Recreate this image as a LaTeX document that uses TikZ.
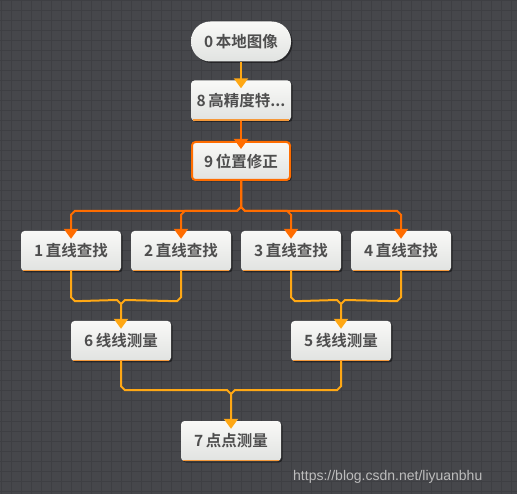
\documentclass[tikz,border=0pt]{standalone}
\usepackage{fontspec}
\setmainfont{Noto Sans CJK SC}[BoldFont={Noto Sans CJK SC Bold}]
\newfontfamily\wmfont{Liberation Sans}
\usetikzlibrary{arrows.meta,shadows,calc}
\definecolor{bg}{HTML}{46474B}
\definecolor{gridc}{HTML}{3E3F43}
\definecolor{boxtop}{HTML}{F9F9F7}
\definecolor{boxbot}{HTML}{E1E3E1}
\definecolor{txt}{HTML}{4E4E4E}
\definecolor{ordark}{HTML}{FF6D00}
\definecolor{orlight}{HTML}{FFA814}
\definecolor{orbottom}{HTML}{F5993A}
\definecolor{wm}{HTML}{BDBDBD}
\tikzset{
  box/.style={rectangle, rounded corners=3.5pt, minimum width=100pt, minimum height=40pt,
    inner sep=0pt, top color=boxtop, bottom color=boxbot,
    drop shadow={shadow xshift=1.5pt, shadow yshift=-1.5pt, opacity=0.45, fill=black},
    text=txt, font=\fontsize{15.5pt}{17pt}\selectfont\bfseries},
  pill/.style={box, rounded corners=19.5pt},
  selbox/.style={box, draw=ordark, line width=2pt, minimum width=98pt, minimum height=38pt},
  conA/.style={draw=ordark, line width=2pt, line join=miter},
  conB/.style={draw=orlight, line width=2pt, line join=miter},
  tipd/.style={-{Triangle[width=14pt,length=10pt]}, shorten >=-8pt},
  bline/.style={draw=orbottom, line width=1.2pt}
}
\begin{document}
\begin{tikzpicture}[x=1pt,y=-1pt]
\useasboundingbox (0,0) rectangle (517,494);
\fill[bg] (0,0) rectangle (517,494);
\foreach \i in {0,...,51} \draw[gridc, line width=1pt] (10*\i+1,0) -- (10*\i+1,494);
\foreach \i in {0,...,49} \draw[gridc, line width=1pt] (0,10*\i+1) -- (517,10*\i+1);

% nodes
\node[pill]   (n0) at (241,41.5) {0\,本地图像};
\node[box]    (n8) at (241,100.5) {8\,高精度特...};
\node[selbox] (n9) at (241,161) {9\,位置修正};
\node[box]    (n1) at (71,251) {1\,直线查找};
\node[box]    (n2) at (181,251) {2\,直线查找};
\node[box]    (n3) at (291,251) {3\,直线查找};
\node[box]    (n4) at (401,251) {4\,直线查找};
\node[box]    (n6) at (121,341) {6\,线线测量};
\node[box]    (n5) at (341,341) {5\,线线测量};
\node[box]    (n7) at (231,441) {7\,点点测量};

\foreach \n in {n8,n1,n2,n3,n4,n6,n5,n7}
  \draw[bline] ([xshift=2.5pt,yshift=0.6pt]\n.south west) -- ([xshift=-2.5pt,yshift=0.6pt]\n.south east);

% connectors
\draw[conB, tipd] (n0.south) -- (n8.north);
\draw[conA, tipd] (n8.south) -- (n9.north);

\coordinate (s9) at (241,207);
\draw[conA, tipd] (n9.south) -- (s9) -- ++(-4,4) -- ($(n1.north)+(4,-20)$) -- ++(-4,4) -- (n1.north);
\draw[conA, tipd] (n9.south) -- (s9) -- ++(-4,4) -- ($(n2.north)+(4,-20)$) -- ++(-4,4) -- (n2.north);
\draw[conA, tipd] (n9.south) -- (s9) -- ++(4,4) -- ($(n3.north)+(-4,-20)$) -- ++(4,4) -- (n3.north);
\draw[conA, tipd] (n9.south) -- (s9) -- ++(4,4) -- ($(n4.north)+(-4,-20)$) -- ++(4,4) -- (n4.north);

\coordinate (m6) at (121,304);
\draw[conB] (n1.south) -- ++(0,26) -- ++(4,4) -- ($(m6)+(-4,-4)$) -- (m6);
\draw[conB, tipd] (n2.south) -- ++(0,26) -- ++(-4,4) -- ($(m6)+(4,-4)$) -- (m6) -- (n6.north);

\coordinate (m5) at (341,304);
\draw[conB] (n3.south) -- ++(0,26) -- ++(4,4) -- ($(m5)+(-4,-4)$) -- (m5);
\draw[conB, tipd] (n4.south) -- ++(0,26) -- ++(-4,4) -- ($(m5)+(4,-4)$) -- (m5) -- (n5.north);

\coordinate (m7) at (231,394);
\draw[conB] (n6.south) -- ++(0,25) -- ++(4,4) -- ($(m7)+(-4,-4)$) -- (m7);
\draw[conB, tipd] (n5.south) -- ++(0,25) -- ++(-4,4) -- ($(m7)+(4,-4)$) -- (m7) -- (n7.north);

\node[anchor=base west, inner sep=0pt, text=wm, font=\fontsize{14pt}{16pt}\selectfont\wmfont] (wmk) at (293,480) {https://blog.csdn.net/liyuanbhu};
\end{tikzpicture}
\end{document}
